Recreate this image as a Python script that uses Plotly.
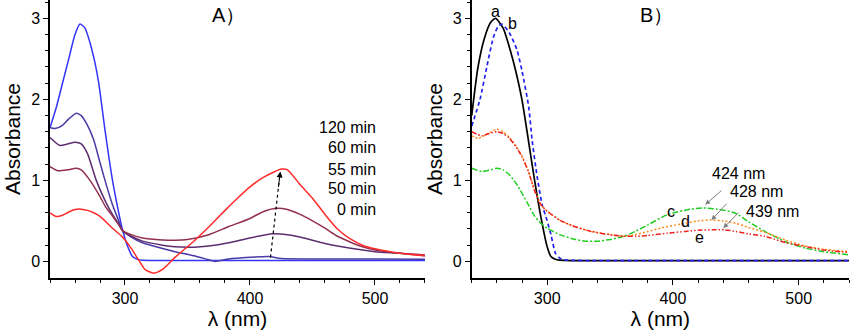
import plotly.graph_objects as go

# ---------------- Panel A data (wavelength nm, absorbance) ----------------
wl_0min = [240, 245, 250, 255, 260, 264, 268, 272, 276, 279, 284, 290, 295, 298, 302, 306, 310, 314, 330, 360, 400, 450, 500, 540]
ab_0min = [1.65, 1.9, 2.2, 2.5, 2.8, 2.93, 2.88, 2.7, 2.45, 2.2, 1.62, 1.0, 0.6, 0.39, 0.19, 0.06, 0.025, 0.013, 0.012, 0.012, 0.012, 0.012, 0.012, 0.012]

wl_50min = [240, 244, 250, 255, 261, 265, 270, 275, 280, 284, 290, 295, 298, 305, 314, 330, 340, 355, 367, 372, 383, 400, 415, 425, 460, 500, 540]
ab_50min = [1.65, 1.64, 1.68, 1.76, 1.83, 1.8, 1.68, 1.5, 1.22, 1.0, 0.7, 0.5, 0.38, 0.3, 0.23, 0.16, 0.12, 0.07, 0.02, 0.0, 0.03, 0.05, 0.06, 0.035, 0.03, 0.03, 0.025]

wl_55min = [240, 248, 254, 260, 265, 270, 277, 285, 290, 295, 298, 305, 314, 330, 340, 355, 367, 383, 400, 418, 430, 440, 460, 470, 500, 520, 540]
ab_55min = [1.53, 1.43, 1.45, 1.47, 1.45, 1.33, 1.0, 0.72, 0.58, 0.46, 0.38, 0.31, 0.25, 0.2, 0.18, 0.175, 0.19, 0.23, 0.29, 0.34, 0.33, 0.3, 0.22, 0.19, 0.12, 0.1, 0.07]

wl_60min = [240, 246, 254, 261, 265, 272, 280, 285, 290, 295, 298, 305, 314, 330, 340, 350, 367, 383, 400, 410, 421, 430, 440, 450, 460, 470, 480, 490, 500, 520, 540]
ab_60min = [1.17, 1.12, 1.13, 1.15, 1.13, 1.0, 0.8, 0.66, 0.56, 0.45, 0.38, 0.33, 0.29, 0.265, 0.26, 0.27, 0.33, 0.43, 0.53, 0.61, 0.655, 0.64, 0.58, 0.5, 0.41, 0.31, 0.24, 0.18, 0.14, 0.1, 0.08]

wl_120min = [240, 245, 250, 255, 260, 265, 270, 275, 280, 290, 298, 305, 310, 316, 323, 330, 340, 350, 360, 370, 380, 390, 400, 410, 420, 425, 430, 440, 450, 460, 470, 480, 490, 500, 520, 540]
ab_120min = [0.6, 0.555, 0.57, 0.61, 0.64, 0.645, 0.63, 0.6, 0.555, 0.41, 0.3, 0.16, 0.04, -0.1, -0.145, -0.1, 0.05, 0.18, 0.32, 0.47, 0.63, 0.78, 0.92, 1.03, 1.11, 1.14, 1.13, 0.95, 0.78, 0.58, 0.4, 0.28, 0.2, 0.155, 0.1, 0.07]

times_A = ["0 min", "50 min", "55 min", "60 min", "120 min"]
legend_order_A = ["120 min", "60 min", "55 min", "50 min", "0 min"]
legend_y_A = [1.65, 1.40, 1.14, 0.895, 0.64]

# ---------------- Panel B data ----------------
wl_a = [240, 245, 250, 255, 259, 265, 270.6, 275, 280, 286.6, 290, 295, 300, 303, 306, 310, 320, 360, 420, 480, 540]
ab_a = [1.8, 2.4, 2.75, 2.95, 3.0, 2.88, 2.61, 2.35, 1.99, 1.34, 1.0, 0.55, 0.18, 0.06, 0.03, 0.015, 0.01, 0.01, 0.01, 0.01, 0.01]

wl_b = [240, 246.6, 252, 257.3, 261, 264, 270, 276, 280, 285.3, 288, 292, 296, 300, 303, 306.6, 310, 313, 330, 400, 480, 540]
ab_b = [1.67, 2.0, 2.4, 2.77, 2.9, 2.93, 2.82, 2.61, 2.35, 1.91, 1.5, 1.05, 0.7, 0.5, 0.33, 0.1, 0.04, 0.02, 0.01, 0.01, 0.01, 0.01]

wl_c = [240, 248, 255, 260, 265, 270, 275, 280, 285, 290, 295, 300, 310, 320, 330, 340, 350, 361, 370, 380, 396, 414, 424, 435, 449, 460, 473, 490, 505, 520, 540]
ab_c = [1.15, 1.11, 1.13, 1.15, 1.13, 1.07, 0.97, 0.84, 0.7, 0.56, 0.47, 0.41, 0.33, 0.28, 0.25, 0.25, 0.27, 0.31, 0.37, 0.45, 0.58, 0.645, 0.66, 0.645, 0.6, 0.49, 0.37, 0.24, 0.165, 0.12, 0.08]

wl_d = [240, 245, 252, 260, 265, 270, 275, 280, 285, 290, 295, 300, 310, 320, 335, 350, 361, 370, 380, 390, 406, 420, 430, 440, 450, 460, 473, 490, 505, 520, 540]
ab_d = [1.55, 1.52, 1.57, 1.63, 1.6, 1.53, 1.43, 1.3, 1.12, 0.88, 0.7, 0.62, 0.51, 0.44, 0.37, 0.33, 0.31, 0.33, 0.37, 0.41, 0.46, 0.5, 0.51, 0.5, 0.47, 0.42, 0.36, 0.26, 0.19, 0.15, 0.12]

wl_e = [240, 248, 254, 260, 265, 270, 275, 280, 285, 290, 295, 300, 310, 320, 335, 350, 361, 370, 380, 396, 410, 420, 432, 441, 450, 460, 473, 490, 505, 520, 540]
ab_e = [1.6, 1.55, 1.58, 1.6, 1.58, 1.52, 1.42, 1.29, 1.11, 0.87, 0.7, 0.62, 0.51, 0.44, 0.37, 0.33, 0.31, 0.31, 0.32, 0.35, 0.37, 0.385, 0.39, 0.39, 0.37, 0.34, 0.31, 0.23, 0.185, 0.14, 0.11]

labels_B = ["a", "b", "c", "d", "e"]
label_pos_B = [(258.6, 3.08), (272.2, 2.94), (398.6, 0.62), (410.0, 0.49), (421.0, 0.29)]
peak_texts = ["424 nm", "428 nm", "439 nm"]
peak_text_pos = [(452.2, 1.08), (466.6, 0.86), (479.4, 0.62)]
peak_arrow_head = [(425.6, 0.70), (430.6, 0.51), (440.0, 0.41)]
peak_arrow_tail = [(439.8, 0.89), (443.8, 0.73), (453.3, 0.62)]

FONT = "Arial, Liberation Sans, sans-serif"

fig = go.Figure()

colors_A = ["#3434f8", "#4a3aa6", "#5c2e70", "#93304e", "#ff2a2a"]
series_A = [(wl_0min, ab_0min), (wl_50min, ab_50min), (wl_55min, ab_55min),
            (wl_60min, ab_60min), (wl_120min, ab_120min)]
for name, (wl, ab), col in zip(times_A, series_A, colors_A):
    fig.add_trace(go.Scatter(x=wl, y=ab, mode="lines", name=name,
                             line=dict(color=col, width=1.5, shape="spline", smoothing=0.6),
                             xaxis="x", yaxis="y", showlegend=False))

series_B = [(wl_a, ab_a, "#000000", "solid", 1.7),
            (wl_b, ab_b, "#2222ee", "4px,3px", 1.7),
            (wl_c, ab_c, "#22cc22", "6px,2px,2px,2px", 1.5),
            (wl_d, ab_d, "#ff8a1e", "2px,2px", 1.5),
            (wl_e, ab_e, "#ee2222", "5px,2px,1.5px,2px,1.5px,2px", 1.5)]
for lab, (wl, ab, col, dash, w) in zip(labels_B, series_B):
    fig.add_trace(go.Scatter(x=wl, y=ab, mode="lines", name=lab,
                             line=dict(color=col, width=w, dash=dash, shape="spline", smoothing=0.6),
                             xaxis="x2", yaxis="y2", showlegend=False))

annotations = []
for t, yv in zip(legend_order_A, legend_y_A):
    annotations.append(dict(x=502.5, y=yv, xref="x", yref="y", text=t, showarrow=False,
                            xanchor="right", yanchor="middle", font=dict(size=16, color="black", family=FONT)))
annotations.append(dict(x=383.2, y=3.04, xref="x", yref="y", text="A）", showarrow=False,
                        font=dict(size=20, color="black", family=FONT)))
annotations.append(dict(x=386.6, y=3.04, xref="x2", yref="y2", text="B）", showarrow=False,
                        font=dict(size=20, color="black", family=FONT)))
annotations.append(dict(x=424.3, y=1.11, xref="x", yref="y", ax=422.6, ay=0.9, axref="x", ayref="y",
                        text="", showarrow=True, arrowhead=2, arrowsize=1.2, arrowwidth=1, arrowcolor="black"))
for lab, (xv, yv) in zip(labels_B, label_pos_B):
    annotations.append(dict(x=xv, y=yv, xref="x2", yref="y2", text=lab, showarrow=False,
                            font=dict(size=16, color="black", family=FONT)))
for t, (xv, yv) in zip(peak_texts, peak_text_pos):
    annotations.append(dict(x=xv, y=yv, xref="x2", yref="y2", text=t, showarrow=False,
                            font=dict(size=16, color="black", family=FONT)))
for (hx, hy), (tx, ty) in zip(peak_arrow_head, peak_arrow_tail):
    annotations.append(dict(x=hx, y=hy, xref="x2", yref="y2", ax=tx, ay=ty, axref="x2", ayref="y2",
                            text="", showarrow=True, arrowhead=2, arrowsize=1, arrowwidth=1, arrowcolor="#808080"))

shapes = [dict(type="line", xref="x", yref="y", x0=416.4, y0=0.05, x1=424.0, y1=1.08,
               line=dict(color="black", width=1.2, dash="dot"))]

xaxis_common = dict(range=[240, 540], showline=True, linecolor="black", linewidth=1.5,
                    ticks="outside", ticklen=5, tickwidth=1, tickcolor="black",
                    tickvals=[300, 400, 500], showgrid=False, zeroline=False,
                    minor=dict(tickvals=[240, 260, 280, 320, 340, 360, 380, 420, 440, 460, 480, 520, 540],
                               ticks="outside", ticklen=3, tickcolor="black", tickwidth=1),
                    tickfont=dict(size=16, color="black", family=FONT),
                    title=dict(text="λ (nm)", font=dict(size=21, color="black", family=FONT), standoff=4))
yaxis_common = dict(range=[-0.205, 3.227], showline=True, linecolor="black", linewidth=1.5,
                    ticks="outside", ticklen=5, tickwidth=1, tickcolor="black",
                    tickvals=[0, 1, 2, 3], showgrid=False, zeroline=False,
                    minor=dict(tickvals=[0.2, 0.4, 0.6, 0.8, 1.2, 1.4, 1.6, 1.8, 2.2, 2.4, 2.6, 2.8, 3.2],
                               ticks="outside", ticklen=3, tickcolor="black", tickwidth=1),
                    tickfont=dict(size=16, color="black", family=FONT),
                    title=dict(text="Absorbance", font=dict(size=21, color="black", family=FONT), standoff=5))

fig.update_layout(
    width=850, height=331,
    margin=dict(l=50, r=1, t=0, b=53),
    paper_bgcolor="white", plot_bgcolor="white",
    xaxis=dict(domain=[0, 0.4693], anchor="y", **xaxis_common),
    yaxis=dict(domain=[0, 1], anchor="x", **yaxis_common),
    xaxis2=dict(domain=[0.5278, 1], anchor="y2", **xaxis_common),
    yaxis2=dict(domain=[0, 1], anchor="x2", **yaxis_common),
    annotations=annotations,
    shapes=shapes,
    font=dict(family=FONT, color="black"),
)

fig.write_html("out.html")
